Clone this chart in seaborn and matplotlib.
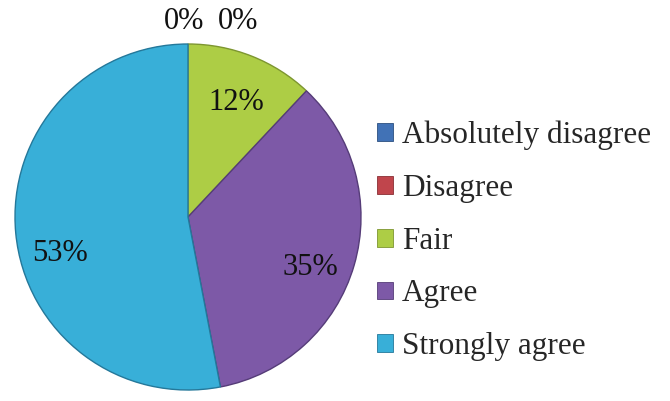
import numpy as np
import seaborn as sns
import matplotlib.pyplot as plt
from matplotlib.patches import Patch

categories = ["Absolutely disagree", "Disagree", "Fair", "Agree", "Strongly agree"]
shares = [0, 0, 12, 35, 53]
pct_labels = ["0%", "0%", "12%", "35%", "53%"]
colors = ["#4172B6", "#C0454C", "#ADCD45", "#7D59A7", "#38AFD8"]
edge_colors = ["#2c4f80", "#8a2f34", "#7d9630", "#553c78", "#24789a"]

# where Excel put the percent labels (axes data units, pie radius = 1)
label_pos = [(-0.02, 1.13), (0.29, 1.13), (0.28, 0.66), (0.71, -0.29), (-0.74, -0.21)]

sns.set_theme(style="white")
plt.rcParams['font.family'] = ['Liberation Serif', 'DejaVu Serif']

fig = plt.figure(figsize=(6.70, 4.01), dpi=100)
W, H = 670, 401
cx, cy, r = 188, 217, 173
ax = fig.add_axes([(cx - r) / W, (H - cy - r) / H, 2 * r / W, 2 * r / H])

wedges, _ = ax.pie(shares, colors=colors, startangle=90, counterclock=False,
                   radius=1, wedgeprops=dict(linewidth=1.0))
for w, ec in zip(wedges, edge_colors):
    w.set_edgecolor(ec)

for (x, y), lab in zip(label_pos, pct_labels):
    ax.text(x, y, lab, ha="center", va="center", fontsize=22, color="#111111")

ax.set_xlim(-1, 1)
ax.set_ylim(-1, 1)
ax.set_aspect("auto")
ax.axis("off")

handles = [Patch(facecolor=c, edgecolor=ec, linewidth=0.6) for c, ec in zip(colors, edge_colors)]
fig.legend(handles, categories, loc="center left", bbox_to_anchor=(377 / W, 1 - 241 / H),
           frameon=False, fontsize=22.5, handlelength=0.5, handleheight=0.5,
           handletextpad=0.3, labelspacing=0.76, borderaxespad=0, borderpad=0)

fig.savefig("out.png", dpi=100)
